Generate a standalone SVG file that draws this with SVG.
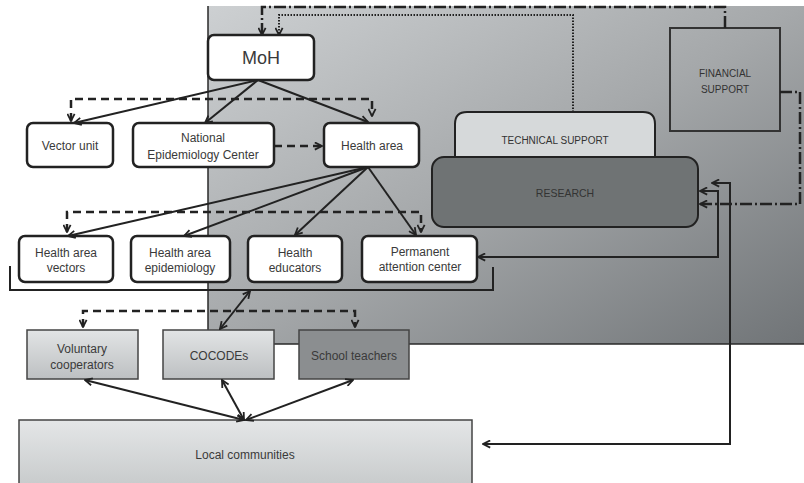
<svg xmlns="http://www.w3.org/2000/svg" width="804" height="483" viewBox="0 0 804 483">
<defs>
<linearGradient id="bg" x1="0" y1="0" x2="1" y2="1">
<stop offset="0" stop-color="#cdd0d2"/>
<stop offset="0.5" stop-color="#a5a8aa"/>
<stop offset="1" stop-color="#707477"/>
</linearGradient>
<linearGradient id="lg" x1="0" y1="0" x2="0" y2="1">
<stop offset="0" stop-color="#e2e4e5"/>
<stop offset="1" stop-color="#bdc0c2"/>
</linearGradient>
<linearGradient id="lc" x1="0" y1="0" x2="0" y2="1">
<stop offset="0" stop-color="#e4e6e7"/>
<stop offset="1" stop-color="#c6c9ca"/>
</linearGradient>
<marker id="ah" viewBox="0 0 10 10" refX="9" refY="5" markerWidth="9" markerHeight="9" markerUnits="userSpaceOnUse" orient="auto-start-reverse">
<path d="M1,1 L9,5 L1,9" fill="none" stroke="#222" stroke-width="2" stroke-dasharray="none"/>
</marker>
<style>
.nb{fill:#fff;stroke:#222;stroke-width:2.5}
.sq{stroke:#444;stroke-width:1.5}
.t{font-family:"Liberation Sans",Arial,sans-serif;font-size:12px;fill:#3a3a3a;text-anchor:middle}
.tc{font-family:"Liberation Sans",Arial,sans-serif;font-size:10px;fill:#333;text-anchor:middle}
.c{fill:none;stroke:#222;stroke-width:2}
.da{stroke-dasharray:8 5;stroke-width:2.5}
.dot{stroke-dasharray:1.5 1.5;stroke-width:2}
.dd{stroke-dasharray:12 3 2 3;stroke-width:2.5}
</style>
</defs>

<g id="background">
<rect x="208" y="6" width="596" height="338" fill="url(#bg)"/>
<path d="M208,6 V344 H804" fill="none" stroke="#2a2a2a" stroke-width="1.5"/>
</g>

<g id="financial">
<rect x="670" y="28" width="110" height="103" fill="none" stroke="#333" stroke-width="2"/>
<text class="tc" x="725" y="77">FINANCIAL</text>
<text class="tc" x="725" y="93">SUPPORT</text>
</g>

<g id="technical">
<path d="M455,157 V124 Q455,112 467,112 H643 Q655,112 655,124 V157" fill="#d6d9da" stroke="#222" stroke-width="2"/>
<text class="tc" x="555" y="144">TECHNICAL SUPPORT</text>
</g>

<g id="research">
<rect x="432" y="157" width="266" height="70" rx="12" fill="#6f7374" stroke="#222" stroke-width="2"/>
<text class="tc" x="565" y="197" style="font-size:10.5px">RESEARCH</text>
</g>

<g id="moh">
<rect class="nb" x="208" y="35" width="106" height="45" rx="6"/>
<text class="t" x="261" y="64" style="font-size:18px">MoH</text>
</g>
<g id="vector-unit">
<rect class="nb" x="27" y="123" width="86" height="44" rx="6"/>
<text class="t" x="70" y="150">Vector unit</text>
</g>
<g id="nec">
<rect class="nb" x="133" y="123" width="141" height="44" rx="6"/>
<text class="t" x="203" y="142">National</text>
<text class="t" x="203" y="159">Epidemiology Center</text>
</g>
<g id="health-area">
<rect class="nb" x="324" y="123" width="95" height="44" rx="6"/>
<text class="t" x="372" y="150">Health area</text>
</g>

<g id="ha-vectors">
<rect class="nb" x="19" y="236" width="94" height="46" rx="6"/>
<text class="t" x="66" y="257">Health area</text>
<text class="t" x="66" y="272">vectors</text>
</g>
<g id="ha-epidemiology">
<rect class="nb" x="131" y="236" width="99" height="46" rx="6"/>
<text class="t" x="180" y="257">Health area</text>
<text class="t" x="180" y="272">epidemiology</text>
</g>
<g id="health-educators">
<rect class="nb" x="248" y="236" width="94" height="46" rx="6"/>
<text class="t" x="295" y="257">Health</text>
<text class="t" x="295" y="272">educators</text>
</g>
<g id="permanent">
<rect class="nb" x="362" y="236" width="115" height="46" rx="6"/>
<text class="t" x="420" y="256">Permanent</text>
<text class="t" x="420" y="271">attention center</text>
</g>
<g id="bracket">
<path d="M10,266 V290 H493 V267" fill="none" stroke="#222" stroke-width="2"/>
</g>

<g id="voluntary">
<rect class="sq" x="27" y="330" width="111" height="49" fill="url(#lg)"/>
<text class="t" x="82" y="353">Voluntary</text>
<text class="t" x="82" y="369">cooperators</text>
</g>
<g id="cocodes">
<rect class="sq" x="163" y="330" width="111" height="49" fill="url(#lg)"/>
<text class="t" x="219" y="360">COCODEs</text>
</g>
<g id="school-teachers">
<rect class="sq" x="299" y="330" width="110" height="49" fill="#8b8e90"/>
<text class="t" x="354" y="360">School teachers</text>
</g>
<g id="local-communities">
<rect class="sq" x="19" y="420" width="453" height="70" fill="url(#lc)"/>
<text class="t" x="245" y="459">Local communities</text>
</g>

<g id="connectors">
<path class="c dd" d="M725,28 V7 H262 V35" marker-end="url(#ah)"/>
<path class="c dot" d="M573,112 V15 H279 V35" marker-end="url(#ah)"/>
<path class="c dd" d="M780,92 H800 V204 H700" marker-end="url(#ah)"/>
<line class="c" x1="258" y1="80" x2="74" y2="123" marker-end="url(#ah)"/>
<line class="c" x1="258" y1="80" x2="205" y2="123" marker-end="url(#ah)"/>
<line class="c" x1="258" y1="80" x2="368" y2="122" marker-end="url(#ah)"/>
<path class="c da" d="M71,121 V99 H372 V116" marker-start="url(#ah)" marker-end="url(#ah)"/>
<line class="c da" x1="274" y1="146" x2="322" y2="146" marker-end="url(#ah)"/>
<line class="c" x1="368" y1="167" x2="68" y2="236" marker-end="url(#ah)"/>
<line class="c" x1="368" y1="167" x2="184" y2="236" marker-end="url(#ah)"/>
<line class="c" x1="368" y1="167" x2="295" y2="235" marker-end="url(#ah)"/>
<line class="c" x1="368" y1="167" x2="416" y2="235" marker-end="url(#ah)"/>
<path class="c da" d="M67,232 V212 H421 V232" marker-start="url(#ah)" marker-end="url(#ah)"/>
<path class="c" d="M478,257 H718 V191 H700" marker-start="url(#ah)" marker-end="url(#ah)"/>
<path class="c" d="M483,444 H730 V183 H712" marker-start="url(#ah)" marker-end="url(#ah)"/>
<line class="c" x1="220" y1="329" x2="250" y2="291" marker-start="url(#ah)" marker-end="url(#ah)"/>
<path class="c da" d="M83,327 V311 H355 V327" marker-start="url(#ah)" marker-end="url(#ah)"/>
<line class="c" x1="244" y1="420" x2="85" y2="380" marker-start="url(#ah)" marker-end="url(#ah)"/>
<line class="c" x1="244" y1="420" x2="222" y2="380" marker-start="url(#ah)" marker-end="url(#ah)"/>
<line class="c" x1="246" y1="420" x2="353" y2="380" marker-start="url(#ah)" marker-end="url(#ah)"/>
</g>
</svg>
